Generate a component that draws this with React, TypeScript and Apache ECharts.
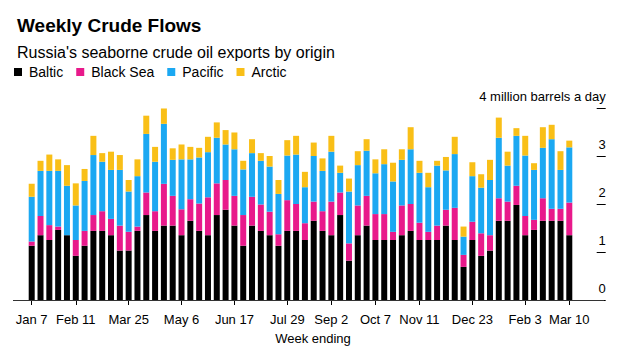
import React, { useEffect, useRef } from "react";
import * as echarts from "echarts";

const weeks = [
  "Jan 7", "Jan 14", "Jan 21", "Jan 28", "Feb 4", "Feb 11", "Feb 18", "Feb 25",
  "Mar 4", "Mar 11", "Mar 18", "Mar 25", "Apr 1", "Apr 8", "Apr 15", "Apr 22", "Apr 29",
  "May 6", "May 13", "May 20", "May 27", "Jun 3", "Jun 10", "Jun 17", "Jun 24",
  "Jul 1", "Jul 8", "Jul 15", "Jul 22", "Jul 29", "Aug 5", "Aug 12", "Aug 19", "Aug 26",
  "Sep 2", "Sep 9", "Sep 16", "Sep 23", "Sep 30", "Oct 7", "Oct 14", "Oct 21", "Oct 28",
  "Nov 4", "Nov 11", "Nov 18", "Nov 25", "Dec 2", "Dec 9", "Dec 16", "Dec 23", "Dec 30",
  "Jan 6", "Jan 13", "Jan 20", "Jan 27", "Feb 3", "Feb 10", "Feb 17", "Feb 24", "Mar 3", "Mar 10",
];

const tickLabels = ["Jan 7", "Feb 11", "Mar 25", "May 6", "Jun 17", "Jul 29", "Sep 2", "Oct 7", "Nov 11", "Dec 23", "Feb 3", "Mar 10"];

const baltic = [
  1.13, 1.35, 1.25, 1.46, 1.35, 0.92, 1.13, 1.44, 1.44, 1.35, 1.03, 1.03, 1.44, 1.77, 1.44, 1.55,
  1.55, 1.35, 1.65, 1.44, 1.35, 1.77, 1.88, 1.55, 1.13, 1.55, 1.44, 1.35, 1.13, 1.44, 1.44, 1.25,
  1.65, 1.44, 1.35, 1.77, 0.82, 1.35, 1.55, 1.25, 1.25, 1.25, 1.35, 1.44, 1.25, 1.25, 1.25, 1.55,
  1.25, 0.69, 1.25, 0.92, 1.03, 1.65, 1.65, 1.98, 1.35, 1.46, 1.65, 1.65, 1.65, 1.35,
];
const blackSea = [
  0.09, 0.40, 0.31, 0.07, 0.0, 0.33, 0.31, 0.33, 0.41, 0.34, 0.52, 0.39, 0.09, 0.47, 0.41, 0.87,
  0.62, 0.54, 0.45, 0.57, 0.79, 0.66, 0.62, 0.62, 0.64, 0.60, 0.55, 0.49, 0.24, 0.64, 0.56, 0.35,
  0.40, 0.41, 0.70, 0.47, 0.36, 0.62, 0.62, 0.54, 0.54, 0.17, 0.62, 0.56, 0.36, 0.17, 0.30, 0.33,
  0.67, 0.25, 0.38, 0.47, 0.32, 0.47, 0.40, 0.40, 0.40, 0.21, 0.47, 0.25, 0.25, 0.68,
];
const pacific = [
  0.93, 0.94, 1.13, 1.16, 1.03, 0.72, 1.04, 1.25, 1.03, 1.02, 1.16, 0.84, 1.05, 1.22, 1.03, 1.25,
  0.75, 1.04, 0.83, 0.96, 0.94, 0.95, 0.74, 0.97, 0.95, 0.91, 0.91, 0.94, 0.84, 0.93, 1.03, 0.75,
  0.95, 0.84, 1.04, 0.41, 1.08, 0.84, 0.94, 0.85, 1.04, 1.05, 0.95, 1.14, 1.04, 0.93, 1.25, 0.82,
  1.12, 0.38, 0.95, 0.95, 1.15, 1.26, 0.75, 1.04, 1.26, 1.04, 1.05, 1.45, 0.81, 1.15,
];
const arctic = [
  0.27, 0.21, 0.34, 0.24, 0.43, 0.46, 0.25, 0.40, 0.18, 0.38, 0.31, 0.24, 0.35, 0.38, 0.31, 0.32,
  0.24, 0.31, 0.26, 0.20, 0.32, 0.32, 0.30, 0.35, 0.18, 0.29, 0.16, 0.22, 0.29, 0.32, 0.39, 0.32,
  0.28, 0.26, 0.33, 0.15, 0.27, 0.29, 0.24, 0.29, 0.31, 0.39, 0.22, 0.46, 0.25, 0.30, 0.10, 0.28,
  0.36, 0.21, 0.29, 0.28, 0.42, 0.42, 0.29, 0.16, 0.41, 0.14, 0.43, 0.30, 0.39, 0.14,
];

const FONT = "'Liberation Sans', Arial, sans-serif";

export default function App() {
  const ref = useRef<HTMLDivElement>(null);
  useEffect(() => {
    if (!ref.current) return;
    const chart = echarts.init(ref.current, undefined, { renderer: "svg" });
    const mk = (name: string, data: number[], color: string) => ({
      name,
      type: "bar",
      stack: "total",
      data,
      barWidth: 6,
      itemStyle: { color },
      emphasis: { disabled: true },
    });
    chart.setOption({
      animation: false,
      textStyle: { fontFamily: FONT },
      title: [
        {
          text: "Weekly Crude Flows",
          left: 12,
          top: 11,
          textStyle: { fontFamily: FONT, fontSize: 19, fontWeight: "bold", color: "#000" },
        },
        {
          text: "Russia's seaborne crude oil exports by origin",
          left: 12,
          top: 39,
          textStyle: { fontFamily: FONT, fontSize: 16, fontWeight: "normal", color: "#000" },
        },
      ],
      legend: {
        left: 14,
        top: 65,
        icon: "rect",
        itemWidth: 8,
        itemHeight: 8,
        itemGap: 13,
        padding: 0,
        textStyle: { fontFamily: FONT, fontSize: 14, color: "#000", padding: [0, 0, 0, 2] },
        data: ["Baltic", "Black Sea", "Pacific", "Arctic"],
      },
      grid: { left: 27.3, right: 46.3, top: 108, bottom: 54 },
      xAxis: {
        type: "category",
        data: weeks,
        axisLine: { show: false },
        axisTick: {
          show: true,
          alignWithLabel: true,
          length: 5,
          lineStyle: { color: "#000" },
          interval: (_i: number, v: string) => tickLabels.includes(v),
        },
        axisLabel: {
          interval: (_i: number, v: string) => tickLabels.includes(v),
          fontFamily: FONT,
          fontSize: 13,
          color: "#000",
          margin: 13,
        },
      },
      yAxis: {
        type: "value",
        position: "right",
        offset: 23,
        min: 0,
        max: 4,
        interval: 1,
        splitLine: { show: false },
        axisLine: { show: false },
        axisTick: { show: true, length: 9, lineStyle: { color: "#000" } },
        axisLabel: {
          align: "right",
          verticalAlign: "bottom",
          margin: 9,
          padding: [0, 0, 5, 0],
          fontFamily: FONT,
          fontSize: 13,
          color: "#000",
          formatter: (v: number) => (v === 4 ? "4 million barrels a day" : String(v)),
        },
      },
      graphic: [
        {
          type: "line",
          shape: { x1: 13, y1: 300.5, x2: 604, y2: 300.5 },
          style: { stroke: "#333", lineWidth: 1 },
          z: 10,
        },
        {
          type: "text",
          x: 313,
          y: 338,
          style: {
            text: "Week ending",
            font: `13px ${FONT}`,
            fill: "#000",
            align: "center",
            verticalAlign: "middle",
          },
        },
      ],
      series: [
        mk("Baltic", baltic, "#000000"),
        mk("Black Sea", blackSea, "#e8198b"),
        mk("Pacific", pacific, "#1ba8f2"),
        mk("Arctic", arctic, "#f9bf17"),
      ],
    });
    return () => chart.dispose();
  }, []);
  return <div ref={ref} style={{ width: 620, height: 354, margin: -8 }} />;
}
